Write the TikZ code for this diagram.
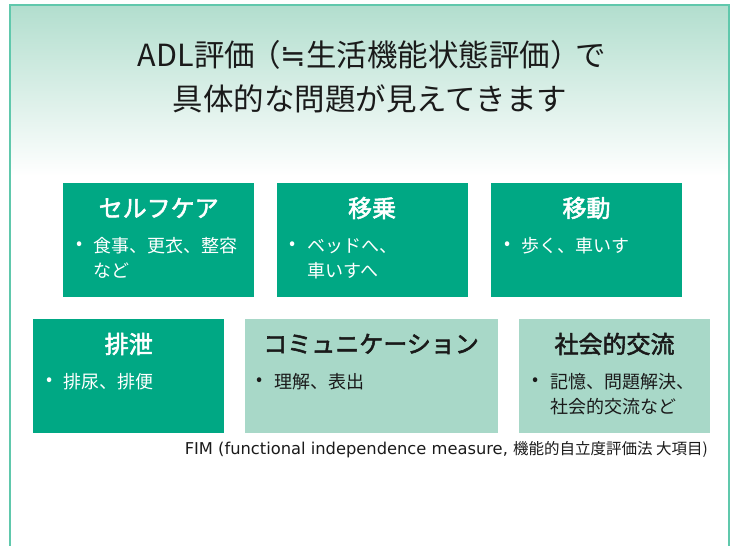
\documentclass[tikz,border=0pt]{standalone}
\usepackage{fontspec}
\setmainfont{Noto Sans CJK JP}
\newfontfamily\titlefont[FakeBold=2.2]{Noto Sans CJK JP}
\newfontfamily\symbolfont{DejaVu Sans}
\newfontfamily\notefont{DejaVu Sans}
\usetikzlibrary{positioning}
\definecolor{careteal}{RGB}{0,168,132}
\definecolor{carelight}{RGB}{168,216,200}
\definecolor{framegreen}{RGB}{96,200,172}
\definecolor{headgreen}{RGB}{178,222,206}
\definecolor{inktext}{RGB}{26,26,26}

\begin{document}
\begin{tikzpicture}[x=1pt, y=-1pt,
    fimbox/.style={rectangle, inner sep=0pt, minimum width=191pt, minimum height=114pt, anchor=north west},
    darkbox/.style={fimbox, fill=careteal},
    lightbox/.style={fimbox, fill=carelight},
    boxtitle/.style={inner sep=0pt, font=\fontsize{24}{28}\selectfont\titlefont},
    itemdot/.style={inner sep=0pt, font=\fontsize{18}{22}\selectfont},
    item/.style={itemdot, anchor=west, text height=15.8pt, text depth=2.2pt},
    headline/.style={inner sep=0pt, font=\fontsize{30.5}{36}\selectfont, text=inktext, text height=26.8pt, text depth=3.7pt},
    fimnote/.style={inner sep=0pt, anchor=east, font=\fontsize{15.5}{18}\selectfont, text=inktext}
]
    \useasboundingbox (0,0) rectangle (734,546);

    % header band and frame
    \shade[top color=headgreen, bottom color=white] (10,5) rectangle (729,176);
    \draw[framegreen, line width=1.3pt] (10,546) |- (729,5) -- (729,546);

    \node[headline] (headone) at (372,55) {ADL評価\kern-5pt（{\symbolfont ≒}生活機能状態評価）\kern-5pt で};
    \node[headline] (headtwo) at (370,99) {具体的な問題が見えてきます};

    % top row
    \node[darkbox] (selfcare) at (63,183) {};
    \node[darkbox, right=22pt of selfcare] (transfer) {};
    \node[darkbox, right=23pt of transfer] (walking) {};

    % bottom row
    \node[darkbox] (toileting) at (33,319) {};
    \node[lightbox, minimum width=253pt, right=20pt of toileting] (communication) {};
    \node[lightbox, right=21pt of communication] (social) {};

    \node[boxtitle, text=white] at ([yshift=-25pt]selfcare.north) {セルフケア};
    \node[itemdot, text=white] at ([xshift=16.5pt, yshift=-63pt]selfcare.north west) {•};
    \node[item, text=white] (selfcarea) at ([xshift=30pt, yshift=-63pt]selfcare.north west) {食事、更衣、整容};
    \node[item, text=white] at ([yshift=-25pt]selfcarea.west) {など};

    \node[boxtitle, text=white] at ([yshift=-25pt]transfer.north) {移乗};
    \node[itemdot, text=white] at ([xshift=16.5pt, yshift=-63pt]transfer.north west) {•};
    \node[item, text=white] (transfera) at ([xshift=31pt, yshift=-63pt]transfer.north west) {ベッドへ、};
    \node[item, text=white] at ([yshift=-25pt]transfera.west) {車いすへ};

    \node[boxtitle, text=white] at ([yshift=-25pt]walking.north) {移動};
    \node[itemdot, text=white] at ([xshift=16.5pt, yshift=-63pt]walking.north west) {•};
    \node[item, text=white] at ([xshift=30pt, yshift=-63pt]walking.north west) {歩く、車いす};

    \node[boxtitle, text=white] at ([yshift=-25pt]toileting.north) {排泄};
    \node[itemdot, text=white] at ([xshift=16.5pt, yshift=-63pt]toileting.north west) {•};
    \node[item, text=white] at ([xshift=30pt, yshift=-63pt]toileting.north west) {排尿、排便};

    \node[boxtitle, text=inktext] at ([yshift=-25pt]communication.north) {コミュニケーション};
    \node[itemdot, text=inktext] at ([xshift=15pt, yshift=-63pt]communication.north west) {•};
    \node[item, text=inktext] at ([xshift=30pt, yshift=-63pt]communication.north west) {理解、表出};

    \node[boxtitle, text=inktext] at ([yshift=-25pt]social.north) {社会的交流};
    \node[itemdot, text=inktext] at ([xshift=17pt, yshift=-63pt]social.north west) {•};
    \node[item, text=inktext] (sociala) at ([xshift=31pt, yshift=-63pt]social.north west) {記憶、問題解決、};
    \node[item, text=inktext] at ([yshift=-25pt]sociala.west) {社会的交流など};

    \node[fimnote] (fim) at (708,450) {{\notefont\fontsize{16.3}{18}\selectfont FIM (functional independence measure, }機能的自立度評価法 大項目)};
\end{tikzpicture}
\end{document}
